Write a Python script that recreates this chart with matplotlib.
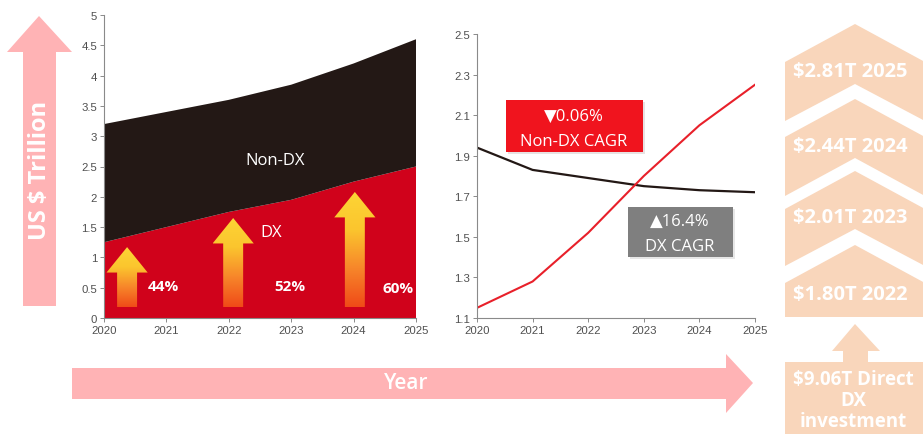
import matplotlib
matplotlib.use("Agg")
import matplotlib.pyplot as plt
import numpy as np
from matplotlib.patches import Polygon, Rectangle
from matplotlib.colors import LinearSegmentedColormap

# ---------------- data ----------------
years = [2020, 2021, 2022, 2023, 2024, 2025]
dx_spend = [1.25, 1.50, 1.75, 1.95, 2.25, 2.50]
nondx_spend = [1.95, 1.90, 1.85, 1.90, 1.95, 2.10]
left_yticks = [0, 0.5, 1, 1.5, 2, 2.5, 3, 3.5, 4, 4.5, 5]
left_yticklabels = ['0', '0.5', '1', '1.5', '2', '2.5', '3', '3.5', '4', '4.5', '5']

share_years = [2020.37, 2022.07, 2024.02]
share_tops = [1.17, 1.65, 2.08]
share_labels = ['44%', '52%', '60%']

dx_index = [1.15, 1.28, 1.52, 1.80, 2.05, 2.25]
nondx_index = [1.94, 1.83, 1.79, 1.75, 1.73, 1.72]
right_yticks = [1.1, 1.3, 1.5, 1.7, 1.9, 2.1, 2.3, 2.5]

chevron_labels = ['$2.81T 2025', '$2.44T 2024', '$2.01T 2023', '$1.80T 2022']
base_label = '$9.06T Direct\nDX\ninvestment'

W, H = 923, 435
fig = plt.figure(figsize=(W / 100, H / 100), dpi=100)
fig.patch.set_facecolor('white')

TICK_C = '#505050'
TFONT = dict(family='Liberation Sans', size=8.2, color=TICK_C)
OS = ['Open Sans', 'DejaVu Sans']


def px_axes(l, t, r, b):
    return fig.add_axes([l / W, 1 - b / H, (r - l) / W, (b - t) / H])


def style_axes(ax):
    for s in ['top', 'right']:
        ax.spines[s].set_visible(False)
    for s in ['left', 'bottom']:
        ax.spines[s].set_color('#8a8a8a')
        ax.spines[s].set_linewidth(0.8)
    ax.tick_params(axis='both', length=3, width=0.7, color='#8a8a8a', pad=2)
    ax.set_xticks(years)
    ax.set_xticklabels([str(y) for y in years], **TFONT)
    ax.set_facecolor('none')


# ---------------- left chart ----------------
ax1 = px_axes(104, 16, 416, 319)
ax1.stackplot(years, dx_spend, nondx_spend, colors=['#d0021b', '#231815'], linewidth=0)
ax1.set_xlim(2020, 2025)
ax1.set_ylim(0, 5)
ax1.set_yticks(left_yticks)
ax1.set_yticklabels(left_yticklabels, **TFONT)
style_axes(ax1)

grad = np.linspace(0, 1, 256).reshape(-1, 1)
cmap = LinearSegmentedColormap.from_list('ar', ['#f04a18', '#f7862a', '#fbc52e', '#fdd535'])
for xc, top in zip(share_years, share_tops):
    hw, sw, hh, bot = 0.33, 0.16, 0.42, 0.18
    pts = [(xc, top), (xc + hw, top - hh), (xc + sw, top - hh), (xc + sw, bot),
           (xc - sw, bot), (xc - sw, top - hh), (xc - hw, top - hh)]
    poly = Polygon(pts, closed=True, facecolor='none', edgecolor='none')
    ax1.add_patch(poly)
    im = ax1.imshow(grad, cmap=cmap, extent=(xc - hw, xc + hw, bot, top),
                    origin='lower', aspect='auto', zorder=3)
    im.set_clip_path(poly)
ax1.set_xlim(2020, 2025)
ax1.set_ylim(0, 5)

pct_pos = [(2020.95, 0.53), (2022.98, 0.53), (2024.71, 0.5)]
for (x, y), lab in zip(pct_pos, share_labels):
    ax1.text(x, y, lab, color='white', fontsize=11, fontweight='bold',
             family=OS, ha='center', va='center', zorder=4)
ax1.text(2022.74, 2.6, 'Non-DX', color='white', fontsize=12, family=OS,
         ha='center', va='center', zorder=4)
ax1.text(2022.68, 1.42, 'DX', color='white', fontsize=12, family=OS,
         ha='center', va='center', zorder=4)

# ---------------- right chart ----------------
ax2 = px_axes(477, 35, 755, 319)
ax2.plot(years, nondx_index, color='#231815', lw=1.6)
ax2.plot(years, dx_index, color='#e8202a', lw=1.5)
ax2.set_xlim(2020, 2025)
ax2.set_ylim(1.1, 2.5)
ax2.set_yticks(right_yticks)
ax2.set_yticklabels([f'{v:.1f}' for v in right_yticks], **TFONT)
style_axes(ax2)

# ---------------- overlay (pixel coords) ----------------
ov = fig.add_axes([0, 0, 1, 1], zorder=10)
ov.set_xlim(0, W)
ov.set_ylim(H, 0)
ov.axis('off')
ov.patch.set_alpha(0)

PINK = '#ffb3b5'
PEACH = '#f9d6bb'

# Y arrow
ov.add_patch(Polygon([(39, 17), (72, 53), (56, 53), (56, 307), (23, 307), (23, 53), (7, 53)],
                     closed=True, facecolor=PINK, edgecolor='none'))
ov.text(40, 170, 'US $ Trillion', rotation=90, color='white', fontsize=17,
        fontweight='bold', family=OS, ha='center', va='center')

# Year arrow
ov.add_patch(Polygon([(72, 369), (726, 369), (726, 355), (753, 384), (726, 414), (726, 400), (72, 400)],
                     closed=True, facecolor=PINK, edgecolor='none'))
ov.text(406, 384, 'Year', color='white', fontsize=15, family=OS,
        fontweight='semibold', ha='center', va='center')

# boxes on right chart
ov.add_patch(Rectangle((508, 103), 137, 52, facecolor='#d8d0d0', edgecolor='none', alpha=0.6))
ov.add_patch(Rectangle((506, 101), 137, 52, facecolor='#f0141e', edgecolor='none'))
ov.text(574, 117, '▼0.06%', color='white', fontsize=12, family=OS, ha='center', va='center')
ov.text(574, 142, 'Non-DX CAGR', color='white', fontsize=12, family=OS, ha='center', va='center')
ov.add_patch(Rectangle((630, 210), 105, 50, facecolor='#d8d8d8', edgecolor='none', alpha=0.6))
ov.add_patch(Rectangle((628, 208), 105, 50, facecolor='#7f7f7f', edgecolor='none'))
ov.text(680, 222, '▲16.4%', color='white', fontsize=12, family=OS, ha='center', va='center')
ov.text(680, 247, 'DX CAGR', color='white', fontsize=12, family=OS, ha='center', va='center')

# chevrons
L, C, R = 785, 855, 925
chev = [(25, 63, 85, 122), (100, 138, 159, 197), (172, 210, 230, 267)]
for peak, sh, notch, bot in chev:
    ov.add_patch(Polygon([(L, sh), (C, peak), (R, sh), (R, bot), (C, notch), (L, bot)],
                         closed=True, facecolor=PEACH, edgecolor='none'))
ov.add_patch(Polygon([(L, 284), (C, 246), (R, 284), (R, 318), (L, 318)],
                     closed=True, facecolor=PEACH, edgecolor='none'))
for lab, y in zip(chevron_labels, [72, 147, 218, 295]):
    ov.text(850, y, lab, color='white', fontsize=14.5, fontweight='bold', family=OS,
            ha='center', va='center')

ov.add_patch(Polygon([(855, 325), (880, 352), (868, 352), (868, 364), (843, 364), (843, 352), (832, 352)],
                     closed=True, facecolor=PEACH, edgecolor='none'))
ov.add_patch(Rectangle((785, 363), 140, 72, facecolor=PEACH, edgecolor='none'))
ov.text(853, 401, base_label, color='white', fontsize=13.5, fontweight='bold', family=OS,
        ha='center', va='center', linespacing=1.08)

fig.savefig('out.png', dpi=100, facecolor='white')
